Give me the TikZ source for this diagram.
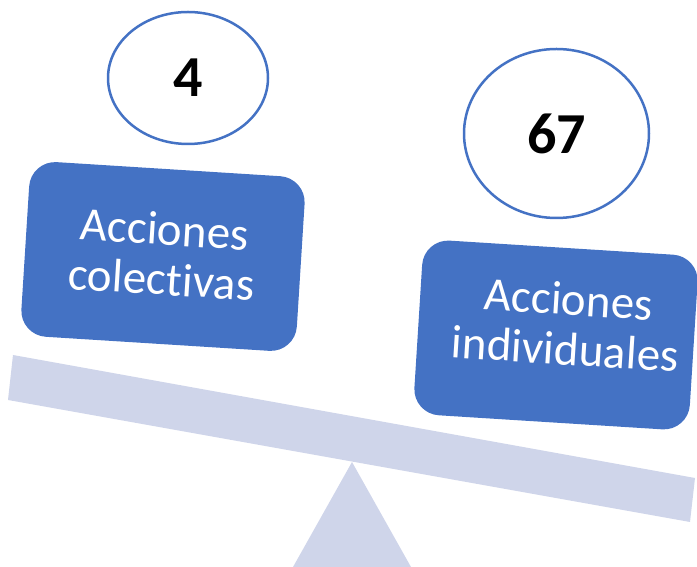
\documentclass[tikz,border=0pt]{standalone}
\usepackage{fontspec}
\setmainfont{Carlito}[Ligatures=NoCommon]
\usetikzlibrary{shapes.geometric}
\definecolor{boxblue}{HTML}{4472C4}
\definecolor{beamcol}{HTML}{CFD5EA}
\begin{document}
\begin{tikzpicture}[x=1pt,y=1pt,
  actbox/.style={fill=boxblue, rounded corners=26pt},
  acttext/.style={text=white, font=\fontsize{47}{50}\selectfont, align=center, rotate=-3.6, inner sep=0pt},
  countell/.style={ellipse, draw=boxblue, line width=2.5pt, fill=white, inner sep=0pt, font=\bfseries\fontsize{58}{60}\selectfont}]
\useasboundingbox (0,0) rectangle (697,567);
\clip (0,0) rectangle (697,567);
% fulcrum and beam
\coordinate (fl) at (293,0);
\coordinate (fa) at (352,105);
\coordinate (fr) at (411,0);
\fill[beamcol] (fl) -- (fa) -- (fr) -- cycle;
\coordinate (b1) at (13,212);
\coordinate (b2) at (695,89);
\coordinate (b3) at (690,45);
\coordinate (b4) at (8,167);
\fill[beamcol] (b1) -- (b2) -- (b3) -- (b4) -- cycle;
% boxes
\begin{scope}[shift={(163,310.5)}, rotate=-3.6]
  \fill[actbox] (-138,-87.5) rectangle (138,87.5);
\end{scope}
\begin{scope}[shift={(556,232)}, rotate=-3.6]
  \fill[actbox] (-138,-87.5) rectangle (138,87.5);
\end{scope}
\node[acttext] (coltext) at (163,313) {Acciones\\colectivas};
\node[acttext] (indtext) at (567,243) {Acciones\\individuales};
% counts
\node[countell, minimum width=160pt, minimum height=132pt] (c4) at (188,489) {4};
\node[countell, minimum width=185pt, minimum height=169pt] (c67) at (556.5,433.5) {67};
\end{tikzpicture}
\end{document}
